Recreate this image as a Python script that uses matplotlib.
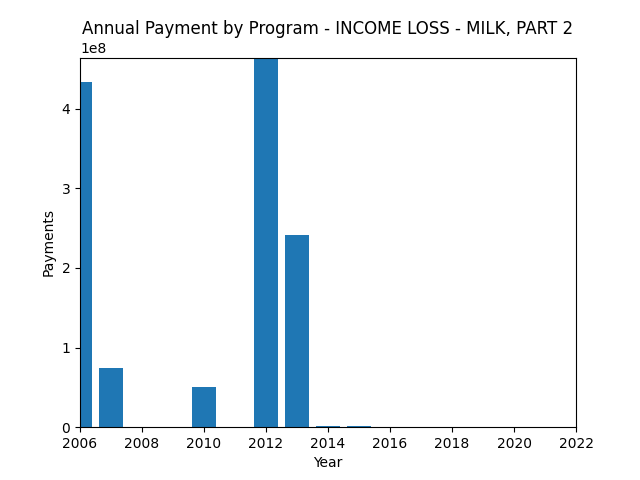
import matplotlib
matplotlib.use("Agg")
import matplotlib.pyplot as plt

years = [2006, 2007, 2010, 2012, 2013, 2014, 2015]
payments = [4.33e8, 0.742e8, 0.503e8, 4.64e8, 2.415e8, 2.0e6, 1.8e6]

fig, ax = plt.subplots(figsize=(6.4, 4.8), dpi=100)
ax.bar(years, payments, color="#1f77b4")
ax.set_xlim(2006, 2022)
ax.set_ylim(0, max(payments))
ax.set_xticks(range(2006, 2023, 2))
ax.set_title("Annual Payment by Program - INCOME LOSS - MILK, PART 2")
ax.set_xlabel("Year")
ax.set_ylabel("Payments")
fig.savefig("out.png")
